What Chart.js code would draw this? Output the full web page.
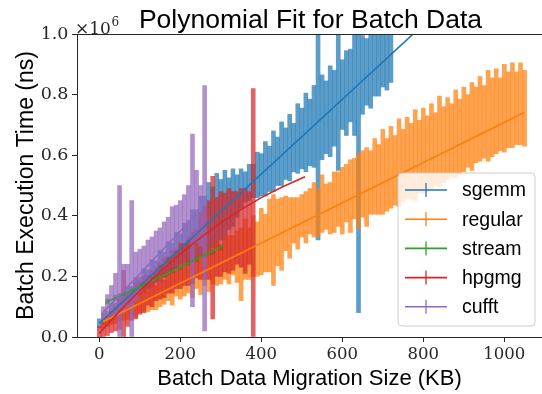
<!DOCTYPE html>
<html><head><meta charset="utf-8">
<script src="https://cdn.jsdelivr.net/npm/chart.js@4/dist/chart.umd.min.js"></script>
<style>html,body{margin:0;padding:0;background:#fff;overflow:hidden}#wrap{width:542px;height:394px;position:relative}</style>
</head><body><div id="wrap"><canvas id="c" width="542" height="394"></canvas></div>
<script>
// ---------- DATA (values in units of 10^6 ns) ----------
const titleText = 'Polynomial Fit for Batch Data';
const xTitle = 'Batch Data Migration Size (KB)';
const yTitle = 'Batch Execution Time (ns)';
const offsetText = ['\u00d710', '6'];
const xTicks = [0, 200, 400, 600, 800, 1000];
const xTickLabels = ['0', '200', '400', '600', '800', '1000'];
const yTicks = [0, 0.2, 0.4, 0.6, 0.8, 1.0];
const yTickLabels = ['0.0', '0.2', '0.4', '0.6', '0.8', '1.0'];
const seriesNames = ['sgemm', 'regular', 'stream', 'hpgmg', 'cufft'];
const seriesColors = ['#1f77b4', '#ff7f0e', '#2ca02c', '#d62728', '#9467bd'];

const sgemmX = [0,10,20,30,40,50,60,70,80,90,100,110,120,130,140,150,160,170,180,190,200,210,220,230,240,250,260,270,280,290,300,310,320,330,340,350,360,370,380,390,400,410,420,430,440,450,460,470,480,490,500,510,520,530,540,550,560,570,580,590,600,610,620,630,640,650,660,670,680,690,700,710,720];
const sgemmMean = [.045,.06,.068,.085,.092,.112,.118,.135,.142,.16,
  .168,.185,.19,.21,.215,.235,.24,.26,.265,.285,
  .29,.31,.315,.335,.34,.365,.37,.39,.395,.415,
  .42,.435,.44,.46,.465,.49,.495,.51,.515,.535,
  .535,.555,.555,.58,.58,.605,.605,.625,.625,.655,
  .655,.675,.675,.695,.66,.725,.725,.745,.755,.78,
  .80,.805,.83,.835,.60,.865,.875,.905,.915,.935,
  .945,.965,.97];
const sgemmErr = [.015,.02,.015,.025,.02,.03,.022,.032,.025,.035,
  .03,.04,.032,.045,.035,.05,.04,.055,.045,.06,
  .05,.065,.07,.085,.08,.10,.095,.12,.10,.125,
  .10,.115,.085,.095,.07,.065,.05,.06,.055,.075,
  .07,.09,.075,.10,.08,.105,.085,.11,.08,.115,
  .10,.13,.11,.135,.34,.14,.12,.15,.125,.23,
  .115,.14,.12,.17,.52,.13,.11,.15,.12,.14,
  .12,.15,.13];

const regularX = [10,20,30,40,50,60,70,80,90,100,110,120,130,140,150,160,170,180,190,200,210,220,230,240,250,260,270,280,290,300,310,320,330,340,350,360,370,380,390,400,410,420,430,440,450,460,470,480,490,500,510,520,530,540,550,560,570,580,590,600,610,620,630,640,650,660,670,680,690,700,710,720,730,740,750,760,770,780,790,800,810,820,830,840,850,860,870,880,890,900,910,920,930,940,950,960,970,980,990,1000,1010,1020,1030,1040,1050];
const regularMean = [.05,.06,.062,.075,.078,.09,.088,.10,.105,.11,
  .125,.118,.135,.13,.15,.148,.165,.16,.18,.175,
  .19,.195,.19,.21,.205,.225,.22,.235,.245,.24,
  .26,.255,.27,.265,.24,.29,.275,.30,.29,.315,
  .31,.335,.32,.345,.34,.375,.36,.385,.375,.40,
  .395,.415,.42,.41,.44,.43,.425,.445,.455,.45,
  .475,.465,.49,.48,.505,.495,.51,.53,.52,.545,
  .535,.56,.55,.575,.565,.59,.58,.60,.595,.615,
  .605,.63,.62,.645,.635,.655,.65,.67,.66,.685,
  .68,.695,.70,.72,.71,.73,.725,.745,.735,.755,
  .75,.765,.755,.77,.755];
const regularErr = [.02,.025,.02,.03,.025,.035,.03,.025,.04,.03,
  .04,.035,.045,.04,.05,.04,.045,.055,.045,.05,
  .055,.05,.06,.05,.065,.055,.07,.06,.075,.065,
  .07,.08,.065,.085,.12,.10,.085,.10,.09,.11,
  .095,.12,.15,.11,.12,.09,.10,.075,.085,.07,
  .085,.075,.09,.08,.095,.075,.085,.10,.09,.11,
  .095,.12,.10,.125,.11,.13,.105,.125,.115,.14,
  .12,.135,.115,.145,.12,.135,.125,.15,.12,.14,
  .125,.14,.12,.15,.125,.135,.12,.145,.125,.14,
  .12,.145,.125,.14,.12,.15,.13,.14,.12,.145,
  .125,.14,.12,.135,.125];

const streamX = [20,40,60,80,100,120,140,160,180,200,220,240,260,280,300];
const streamMean = [.117,.13,.14,.155,.17,.18,.195,.205,.22,.23,.245,.255,.27,.28,.295];
const streamErr = [.008,.008,.008,.008,.008,.008,.008,.008,.008,.008,.008,.008,.008,.008,.008];

const hpgmgX = [0,10,20,30,40,50,60,70,80,90,100,110,120,130,140,150,160,170,180,190,200,210,220,230,240,250,260,270,280,290,300,310,320,330,340,350,360,370,380];
const hpgmgMean = [.015,.025,.035,.05,.06,.075,.11,.09,.105,.12,.13,.14,.155,.16,.175,.185,.195,.205,.215,.225,.235,.24,.25,.26,.275,.30,.31,.32,.295,.33,.34,.345,.35,.35,.36,.36,.35,.36,.41];
const hpgmgErr = [.02,.025,.03,.035,.04,.05,.11,.055,.05,.06,.055,.06,.05,.06,.055,.06,.065,.06,.07,.065,.075,.07,.08,.085,.08,.11,.12,.13,.235,.13,.14,.13,.14,.13,.12,.13,.14,.12,.41];

const cufftX = [10,20,30,40,50,60,70,80,90,100,110,120,130,140,150,160,170,180,190,200,210,220,230,240,250,260];
const cufftMean = [.08,.10,.12,.14,.25,.16,.17,.225,.20,.22,.24,.25,.265,.28,.30,.31,.33,.35,.36,.38,.39,.41,.385,.43,.40,.425];
const cufftErr = [.02,.04,.05,.07,.25,.08,.07,.225,.08,.07,.06,.07,.065,.07,.06,.07,.065,.08,.075,.07,.08,.09,.285,.12,.10,.405];

const sgemmFitX = [0, 800];
const sgemmFitY = [0.045, 1.031];
const regularFitX = [10, 1050];
const regularFitY = [0.051, 0.742];
const streamFitX = [19, 151, 307];
const streamFitY = [0.116, 0.198, 0.303];
const hpgmgFitX = [0, 50, 100, 150, 200, 250, 300, 350, 400, 450, 508];
const hpgmgFitY = [0.012, 0.085, 0.153, 0.216, 0.274, 0.328, 0.377, 0.421, 0.460, 0.494, 0.529];
const cufftFitX = [10, 240];
const cufftFitY = [0.082, 0.405];

// ---------- BUILD ----------
function rgba(hex, a) {
  const n = parseInt(hex.slice(1), 16);
  return `rgba(${(n >> 16) & 255},${(n >> 8) & 255},${n & 255},${a})`;
}
const barSets = [[sgemmX, sgemmMean, sgemmErr], [regularX, regularMean, regularErr], [streamX, streamMean, streamErr], [hpgmgX, hpgmgMean, hpgmgErr], [cufftX, cufftMean, cufftErr]];
const fitSets = [[sgemmFitX, sgemmFitY], [regularFitX, regularFitY], [streamFitX, streamFitY], [hpgmgFitX, hpgmgFitY], [cufftFitX, cufftFitY]];
const datasets = [];
barSets.forEach((s, k) => {
  datasets.push({
    type: 'bar', label: seriesNames[k] + ' err',
    data: s[0].map((x, i) => ({x: x, y: [s[1][i] - s[2][i], s[1][i] + s[2][i]]})),
    backgroundColor: rgba(seriesColors[k], 0.72), borderWidth: 0,
    barThickness: 4, grouped: false, order: 20 - k
  });
});
fitSets.forEach((s, k) => {
  datasets.push({
    type: 'line', label: seriesNames[k],
    data: s[0].map((x, i) => ({x: x, y: s[1][i]})),
    borderColor: seriesColors[k], borderWidth: 1.6, pointRadius: 0, fill: false, tension: 0,
    order: 5 - k
  });
});

const decor = {
  id: 'decor',
  afterDraw(chart) {
    const ctx = chart.ctx, a = chart.chartArea;
    ctx.save();
    // top spine
    ctx.strokeStyle = '#262626'; ctx.lineWidth = 1;
    ctx.beginPath(); ctx.moveTo(a.left, a.top + 0.5); ctx.lineTo(a.right, a.top + 0.5); ctx.stroke();
    // title
    ctx.fillStyle = '#000'; ctx.textAlign = 'center'; ctx.textBaseline = 'alphabetic';
    ctx.font = '26.5px "Liberation Sans", Arial, sans-serif';
    ctx.fillText(titleText, (a.left + a.right) / 2 + 1, 28);
    // offset text
    ctx.textAlign = 'left';
    ctx.font = '17px "DejaVu Serif", serif';
    ctx.fillStyle = '#262626';
    ctx.fillText(offsetText[0], 75, 34);
    const w = ctx.measureText(offsetText[0]).width;
    ctx.font = '12px "DejaVu Serif", serif';
    ctx.fillText(offsetText[1], 75 + w + 0.5, 26);
    // legend
    const lx = 398, ly = 173, lw = 137, lh = 153, r = 4;
    ctx.beginPath();
    ctx.moveTo(lx + r, ly); ctx.lineTo(lx + lw - r, ly); ctx.arcTo(lx + lw, ly, lx + lw, ly + r, r);
    ctx.lineTo(lx + lw, ly + lh - r); ctx.arcTo(lx + lw, ly + lh, lx + lw - r, ly + lh, r);
    ctx.lineTo(lx + r, ly + lh); ctx.arcTo(lx, ly + lh, lx, ly + lh - r, r);
    ctx.lineTo(lx, ly + r); ctx.arcTo(lx, ly, lx + r, ly, r); ctx.closePath();
    ctx.fillStyle = 'rgba(255,255,255,0.8)'; ctx.fill();
    ctx.strokeStyle = '#cccccc'; ctx.lineWidth = 1; ctx.stroke();
    ctx.font = '19.5px "Liberation Sans", Arial, sans-serif';
    ctx.textBaseline = 'middle';
    seriesNames.forEach((name, k) => {
      const cy = 190 + k * 29.2;
      ctx.strokeStyle = seriesColors[k]; ctx.lineWidth = 1.6;
      ctx.beginPath(); ctx.moveTo(405, cy); ctx.lineTo(447, cy); ctx.stroke();
      ctx.strokeStyle = rgba(seriesColors[k], 0.85); ctx.lineWidth = 1.5;
      ctx.beginPath(); ctx.moveTo(426, cy - 7); ctx.lineTo(426, cy + 7); ctx.stroke();
      ctx.fillStyle = '#000'; ctx.textAlign = 'left';
      ctx.fillText(name, 462, cy + 1);
    });
    ctx.restore();
  }
};

new Chart(document.getElementById('c'), {
  type: 'line',
  data: {datasets: datasets},
  plugins: [decor],
  options: {
    responsive: false, animation: false, devicePixelRatio: 1,
    layout: {padding: {top: 34, right: 0, left: 0, bottom: 0}},
    plugins: {legend: {display: false}, tooltip: {enabled: false}, title: {display: false}},
    scales: {
      x: {
        type: 'linear', min: -55.1, max: 1093, offset: false,
        afterBuildTicks: s => { s.ticks = xTicks.map(v => ({value: v})); },
        afterFit: s => { s.height = 57; },
        grid: {drawOnChartArea: false, drawTicks: true, tickLength: 5, color: '#262626', offset: false},
        border: {display: true, color: '#262626', width: 1},
        ticks: {font: {family: 'DejaVu Serif', size: 16.5}, color: '#262626', padding: 3, maxRotation: 0, autoSkip: false,
                callback: (v, i) => xTickLabels[i]},
        title: {display: true, text: xTitle, color: '#000', font: {family: 'Liberation Sans', size: 22}, padding: {top: 0, bottom: 2}}
      },
      y: {
        type: 'linear', min: 0, max: 1, offset: false,
        afterBuildTicks: s => { s.ticks = yTicks.map(v => ({value: v})); },
        afterFit: s => { s.width = 77; },
        grid: {drawOnChartArea: false, drawTicks: true, tickLength: 5, color: '#262626', offset: false},
        border: {display: true, color: '#262626', width: 1},
        ticks: {font: {family: 'DejaVu Serif', size: 17.5}, color: '#262626', padding: 3.5, autoSkip: false,
                callback: (v, i) => yTickLabels[i]},
        title: {display: true, text: yTitle, color: '#000', font: {family: 'Liberation Sans', size: 23}, padding: {top: 12.5, bottom: 0}}
      }
    }
  }
});
</script></body></html>
